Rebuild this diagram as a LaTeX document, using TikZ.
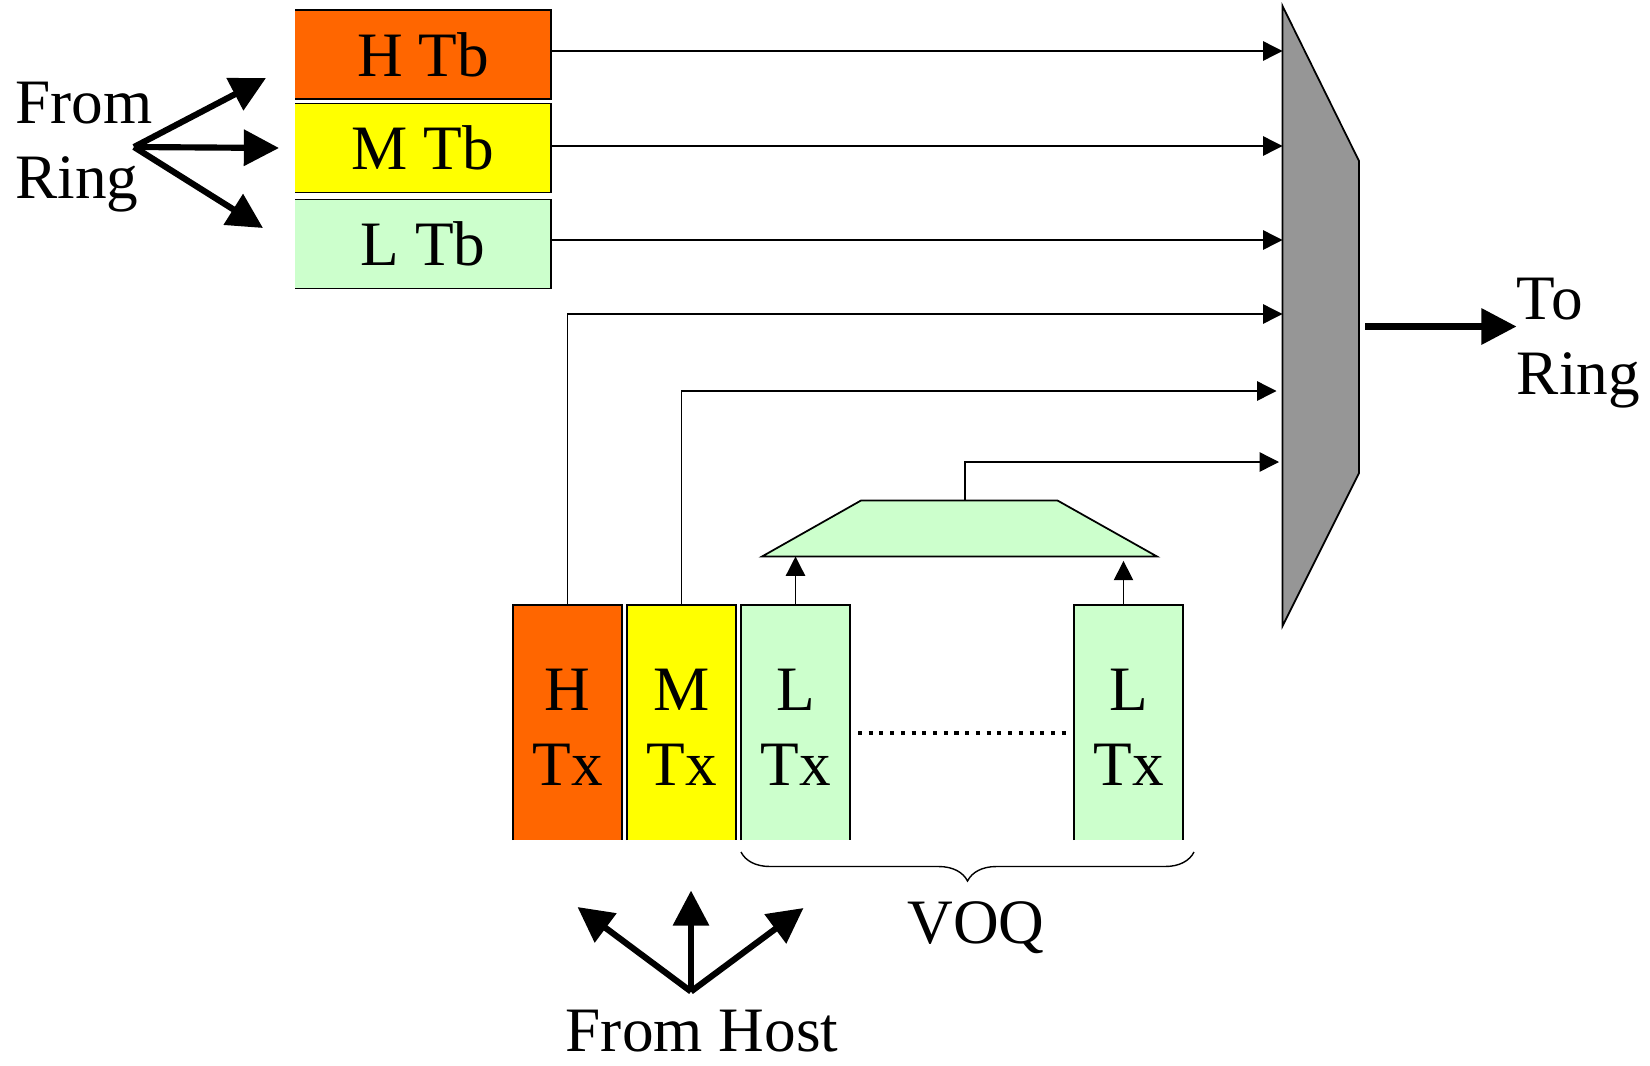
\documentclass[tikz,border=0pt]{standalone}
\usepackage{fontspec}
\setmainfont{Liberation Serif}
\usepackage{xcolor}
\usepackage{tikz}
\usetikzlibrary{arrows.meta, positioning, calc, decorations.pathreplacing}

\definecolor{hiorange}{HTML}{FF6600}
\definecolor{midyellow}{HTML}{FFFF00}
\definecolor{logreen}{HTML}{CCFFCC}
\definecolor{muxgray}{HTML}{969696}

\begin{document}
\begin{tikzpicture}[
    font=\fontsize{36}{43}\selectfont,
    tb/.style={rectangle, minimum width=5.12cm, minimum height=1.78cm, inner sep=0pt, outer sep=0pt},
    tx/.style={rectangle, minimum width=2.18cm, minimum height=4.7cm, align=center, text height=72pt, text depth=0pt, inner sep=0pt, outer sep=0pt},
    lbl/.style={inner sep=0pt, align=left},
    edge/.style={line width=1pt},
    arr/.style={-{Triangle[length=11pt, width=11pt]}, line width=0.75pt},
    bigarr/.style={-{Triangle[length=20pt, width=20pt]}, line width=3.5pt},
    voqbrace/.style={decorate, decoration={brace, mirror, amplitude=0.58cm}, line width=0.8pt},
    node distance=0.1cm,
]
\useasboundingbox (0,0) rectangle (33,-21.3);

\node[tb, fill=hiorange] (htb) at (8.46,-1.09) {H Tb};
\node[tb, fill=midyellow, below=0.09cm of htb] (mtb) {M Tb};
\node[tb, fill=logreen, below=0.14cm of mtb] (ltb) {L Tb};
\foreach \b in {htb,mtb,ltb}
    \draw[edge] (\b.north west) -- (\b.north east) -- (\b.south east) -- (\b.south west);

\node[tx, fill=hiorange] (htx) at (11.35,-14.45) {H\\Tx};
\node[tx, fill=midyellow, right=of htx] (mtx) {M\\Tx};
\node[tx, fill=logreen, right=of mtx] (ltx) {L\\Tx};
\node[tx, fill=logreen] (ltxn) at (22.57,-14.45) {L\\Tx};
\foreach \b in {htx,mtx,ltx,ltxn}
    \draw[edge] (\b.south west) |- (\b.north east) -- (\b.south east);

\draw[edge, fill=logreen] (15.24,-11.13) -- (17.22,-10.01) -- (21.15,-10.01) -- (23.14,-11.13) -- cycle;
\coordinate (selbot) at (0,-11.13);
\coordinate (selout) at (19.3,-10.01);

\draw[edge, fill=muxgray] (25.65,-0.12) -- (27.18,-3.22) -- (27.18,-9.46) -- (25.65,-12.52) -- cycle;
\coordinate (in1) at (25.65,-1.02);
\coordinate (in2) at (25.65,-2.92);
\coordinate (in3) at (25.65,-4.8);
\coordinate (in4) at (25.65,-6.28);
\coordinate (in5) at (25.53,-7.82);
\coordinate (in6) at (25.58,-9.24);
\coordinate (muxout) at (27.3,-6.53);

\draw[arr] (htb.east |- in1) -- (in1);
\draw[arr] (mtb.east |- in2) -- (in2);
\draw[arr] (ltb.east |- in3) -- (in3);
\draw[arr] (htx.north) |- (in4);
\draw[arr] (mtx.north) |- (in5);
\draw[arr] (selout) |- (in6);
\draw[arr] (ltx.north) -- (ltx.north |- selbot);
\draw[arr, shorten >=2.5pt] ([xshift=-0.1cm]ltxn.north) -- ([xshift=-0.1cm]ltxn.north |- selbot);

\draw[line width=2.3pt, dash pattern=on 2.3pt off 3.8pt] ($(ltx.east)+(0.16,-0.21)$) -- ($(ltxn.west)+(-0.15,-0.21)$);
\draw[voqbrace] ($(ltx.south west)+(0,-0.24)$) -- ($(ltxn.south east)+(0.22,-0.24)$);
\node[anchor=base] (voq) at (19.52,-18.86) {VOQ};

\node[lbl, anchor=west] (fromring) at (0.3,-2.94) {From\\Ring};
\coordinate (ringsrc) at (2.68,-2.94);
\coordinate (ringh) at (5.32,-1.56);
\coordinate (ringm) at (5.58,-2.96);
\coordinate (ringl) at (5.26,-4.56);
\foreach \t in {ringh,ringm,ringl}
    \draw[bigarr] (ringsrc) -- (\t);

\node[lbl, anchor=west] (toring) at (30.33,-6.86) {To\\Ring};
\draw[bigarr] (muxout) -- (toring.west |- muxout);

\node[anchor=base] (fromhost) at (14.04,-21.03) {From Host};
\coordinate (hostsrc) at (13.82,-19.83);
\coordinate (hostm) at (13.82,-17.81);
\coordinate (hosth) at (11.55,-18.14);
\coordinate (hostl) at (16.07,-18.16);
\foreach \t in {hosth,hostm,hostl}
    \draw[bigarr] (hostsrc) -- (\t);
\end{tikzpicture}
\end{document}
